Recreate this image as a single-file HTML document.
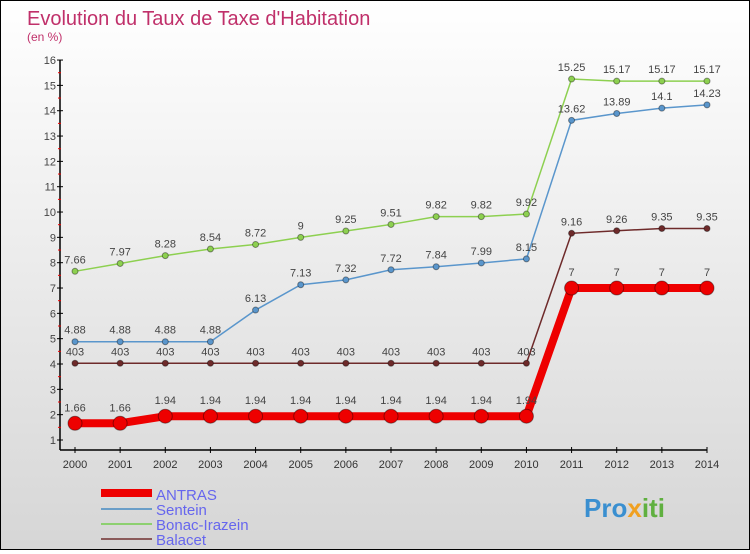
<!DOCTYPE html>
<html><head><meta charset="utf-8"><style>
html,body{margin:0;padding:0}
body{width:750px;height:550px;overflow:hidden;font-family:"Liberation Sans",sans-serif}
#c{position:absolute;left:0;top:0;width:748px;height:548px;border:1px solid #000;background:linear-gradient(#ffffff,#d6d6d6)}
</style></head><body>
<div id="c">
<svg id="s" width="748" height="548" xmlns="http://www.w3.org/2000/svg">
<text x="26" y="24" font-size="20" fill="#c0306a">Evolution du Taux de Taxe d'Habitation</text>
<text x="26" y="40" font-size="12" fill="#c0306a">(en %)</text>
<g id="ax"></g><g id="ser"></g>
<g>
<rect x="100" y="488" width="51" height="8" fill="#e00"/>
<text x="155" y="499" font-size="15" fill="#6666ee">ANTRAS</text>
<rect x="100" y="507" width="51" height="2" fill="#6a9ec8"/>
<text x="155" y="514" font-size="15" fill="#6666ee">Sentein</text>
<rect x="100" y="522" width="51" height="2" fill="#8dd070"/>
<text x="155" y="529" font-size="15" fill="#6666ee">Bonac-Irazein</text>
<rect x="100" y="537" width="51" height="2" fill="#8a5a5a"/>
<text x="155" y="544" font-size="15" fill="#6666ee">Balacet</text>
</g>
<text x="583" y="516" font-size="26" font-weight="bold" fill="#3a8fd0">Pro<tspan fill="#f0a020">x</tspan><tspan fill="#60b040">iti</tspan></text>
</svg></div>
<script>
const years=[2000,2001,2002,2003,2004,2005,2006,2007,2008,2009,2010,2011,2012,2013,2014];
const antras=[1.66,1.66,1.94,1.94,1.94,1.94,1.94,1.94,1.94,1.94,1.94,7,7,7,7];
const sentein=[4.88,4.88,4.88,4.88,6.13,7.13,7.32,7.72,7.84,7.99,8.15,13.62,13.89,14.1,14.23];
const bonac=[7.66,7.97,8.28,8.54,8.72,9,9.25,9.51,9.82,9.82,9.92,15.25,15.17,15.17,15.17];
const balacet=[4.03,4.03,4.03,4.03,4.03,4.03,4.03,4.03,4.03,4.03,4.03,9.16,9.26,9.35,9.35];
const yTicks=[1,2,3,4,5,6,7,8,9,10,11,12,13,14,15,16];
const NS="http://www.w3.org/2000/svg";
const X=i=>74+i*(632/(years.length-1));
const Y=v=>439-(v-1)*25.33;
function mk(t,a,p){const e=document.createElementNS(NS,t);for(const k in a)e.setAttribute(k,a[k]);p.appendChild(e);return e;}
const ax=document.getElementById('ax');
const yl=mk('line',{x1:59,y1:Y(16),x2:59,y2:449,stroke:'#000','stroke-width':1.5},ax);


const xl=mk('line',{x1:59,y1:449,x2:X(14),y2:449,stroke:'#000','stroke-width':1.5},ax);


yTicks.forEach(v=>{mk('line',{x1:56,y1:Y(v),x2:62,y2:Y(v),stroke:'#000'},ax);
if(v<16)mk('line',{x1:57,y1:Y(v+0.5),x2:60,y2:Y(v+0.5),stroke:'#e00'},ax);
const t=mk('text',{x:55,y:Y(v)+4,'font-size':11,fill:'#444','text-anchor':'end'},ax);t.textContent=v;

});
years.forEach((y,i)=>{mk('line',{x1:X(i),y1:446,x2:X(i),y2:452,stroke:'#000'},ax);
const t=mk('text',{x:X(i),y:467,'font-size':11,fill:'#333','text-anchor':'middle'},ax);t.textContent=y;

});
const ser=document.getElementById('ser');
function draw(vals,col,w,r,name,fmt){
const g=mk('g',{},ser);


mk('polyline',{points:vals.map((v,i)=>X(i)+','+Y(v)).join(' '),fill:'none',stroke:col,'stroke-width':w},g);
vals.forEach((v,i)=>{const c=mk('circle',{cx:X(i),cy:Y(v),r:r,fill:col,stroke:'rgba(0,0,0,0.4)','stroke-width':1},g);


const t=mk('text',{x:X(i),y:Y(v)-(r+5),'font-size':11,fill:'#444','text-anchor':'middle'},g);t.textContent=fmt(v);

});}
draw(balacet,'#6e2a2a',1.5,3,'balacet',v=>v===4.03?'403':String(v));
draw(bonac,'#8dd050',1.5,3,'bonac',v=>String(v));
draw(sentein,'#5a96cc',1.5,3,'sentein',v=>String(v));
draw(antras,'#ee0000',8,7,'antras',v=>String(v));
</script>
</body></html>
